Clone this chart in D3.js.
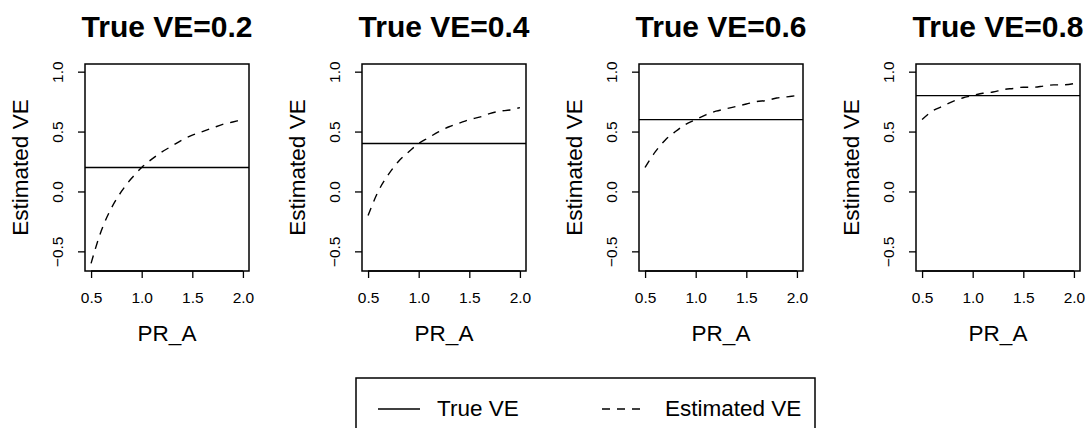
<!DOCTYPE html>
<html>
<head>
<meta charset="utf-8">
<script src="https://cdn.jsdelivr.net/npm/d3@7"></script>
<style>
  body { margin: 0; background: #fff; }
  svg { display: block; font-family: "Liberation Sans", Arial, Helvetica, sans-serif; }
</style>
</head>
<body>
<svg width="1092" height="428"></svg>
<script>
// values
const prA = [0.5, 0.6, 0.7, 0.8, 0.9, 1.0, 1.1, 1.2, 1.3, 1.4, 1.5, 1.6, 1.7, 1.8, 1.9, 2.0];
const trueVE = [0.2, 0.4, 0.6, 0.8];
const estVE02 = [-0.60, -0.33, -0.14, 0.00, 0.11, 0.20, 0.27, 0.33, 0.38, 0.43, 0.47, 0.50, 0.53, 0.56, 0.58, 0.60];
const estVE04 = [-0.20, 0.00, 0.14, 0.25, 0.33, 0.40, 0.45, 0.50, 0.54, 0.57, 0.60, 0.62, 0.65, 0.67, 0.68, 0.70];
const estVE06 = [0.20, 0.33, 0.43, 0.50, 0.56, 0.60, 0.64, 0.67, 0.69, 0.71, 0.73, 0.75, 0.76, 0.78, 0.79, 0.80];
const estVE08 = [0.60, 0.67, 0.71, 0.75, 0.78, 0.80, 0.82, 0.83, 0.85, 0.86, 0.87, 0.87, 0.88, 0.89, 0.89, 0.90];
const estVE = [estVE02, estVE04, estVE06, estVE08];
const xTicks = [0.5, 1.0, 1.5, 2.0];
const yTicks = [-0.5, 0.0, 0.5, 1.0];

const svg = d3.select("svg");
const panelW = 164, panelH = 207;
const panelTop = 64;
const step = 277; // distance between panels
const dash = "8,7";
const tickFont = "15.5px";

const x = d3.scaleLinear().domain([0.44, 2.06]).range([0, panelW]);
const y = d3.scaleLinear().domain([-0.664, 1.064]).range([panelH, 0]);

const line = d3.line()
    .x(d => x(d[0]))
    .y(d => y(d[1]))
    .curve(d3.curveMonotoneX);

trueVE.forEach((ve, i) => {
    const left = 85 + i * step;
    const g = svg.append("g").attr("transform", `translate(${left},${panelTop})`);

    // title
    g.append("text")
        .attr("x", panelW / 2)
        .attr("y", 37 - panelTop)
        .attr("text-anchor", "middle")
        .style("font-size", "30px")
        .attr("font-weight", "bold")
        .text("True VE=" + ve);

    // x axis
    const xa = g.append("g")
        .attr("transform", `translate(0,${panelH})`)
        .call(d3.axisBottom(x).tickValues(xTicks).tickSize(7).tickPadding(14).tickFormat(d3.format(".1f")));
    xa.select(".domain").remove();
    xa.append("line")
        .attr("x1", x(0.5)).attr("x2", x(2.0))
        .attr("stroke", "#000").attr("stroke-width", 1.3);
    xa.selectAll(".tick line").attr("stroke-width", 1.3);
    xa.attr("font-family", null).attr("font-size", null);
    xa.selectAll("text").style("font-size", tickFont).attr("fill", "#000");

    // y axis
    const ya = g.append("g")
        .call(d3.axisLeft(y).tickValues(yTicks).tickSize(7).tickFormat(d3.format(".1f")));
    ya.select(".domain").remove();
    ya.selectAll(".tick line").attr("stroke-width", 1.3);
    ya.attr("font-family", null).attr("font-size", null);
    ya.selectAll("text")
        .attr("x", null).attr("dy", null)
        .attr("transform", "translate(-22,0) rotate(-90)")
        .attr("text-anchor", "middle")
        .style("font-size", tickFont).attr("fill", "#000");

    // axis titles
    g.append("text")
        .attr("x", panelW / 2)
        .attr("y", 341 - panelTop)
        .attr("text-anchor", "middle")
        .style("font-size", "22.5px")
        .text("PR_A");
    g.append("text")
        .attr("transform", `translate(-57,${panelH / 2}) rotate(-90)`)
        .attr("text-anchor", "middle")
        .style("font-size", "22.5px")
        .text("Estimated VE");

    // true VE line
    g.append("line")
        .attr("x1", 0).attr("x2", panelW)
        .attr("y1", y(ve)).attr("y2", y(ve))
        .attr("stroke", "#000").attr("stroke-width", 1.4);

    // estimated VE curve
    g.append("path")
        .datum(prA.map((p, k) => [p, estVE[i][k]]))
        .attr("d", line)
        .attr("fill", "none")
        .attr("stroke", "#000")
        .attr("stroke-width", 1.4)
        .attr("stroke-dasharray", dash);

    // plot box
    g.append("rect")
        .attr("width", panelW).attr("height", panelH)
        .attr("fill", "none").attr("stroke", "#000").attr("stroke-width", 1.5);
});

// legend
const leg = svg.append("g");
leg.append("rect")
    .attr("x", 356).attr("y", 378)
    .attr("width", 459).attr("height", 70)
    .attr("fill", "none").attr("stroke", "#000").attr("stroke-width", 1.5);
const legItems = [
    { label: "True VE", dash: null, x0: 378, tx: 437 },
    { label: "Estimated VE", dash: dash, x0: 602, tx: 665 }
];
legItems.forEach(it => {
    leg.append("line")
        .attr("x1", it.x0).attr("x2", it.x0 + 42)
        .attr("y1", 409).attr("y2", 409)
        .attr("stroke", "#000").attr("stroke-width", 1.4)
        .attr("stroke-dasharray", it.dash);
    leg.append("text")
        .attr("x", it.tx).attr("y", 416)
        .style("font-size", "22.5px")
        .text(it.label);
});
</script>
</body>
</html>
